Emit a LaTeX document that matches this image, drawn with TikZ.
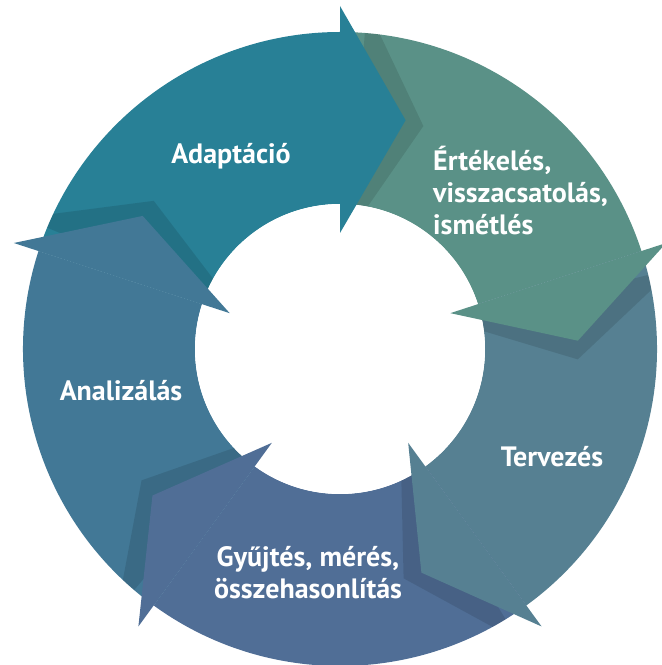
\documentclass[tikz,border=0pt]{standalone}
\usepackage{fontspec}
\setmainfont{PT Sans}
\definecolor{cA}{HTML}{288096}
\definecolor{cE}{HTML}{5A9187}
\definecolor{cT}{HTML}{568092}
\definecolor{cG}{HTML}{506E96}
\definecolor{cN}{HTML}{427896}
\begin{document}
\begin{tikzpicture}[x=1pt,y=1pt,
  lbl/.style={text=white, font=\bfseries\fontsize{28}{32}\selectfont, inner sep=0pt},
  shadowfill/.style={fill=black, fill opacity=0.11}]
\useasboundingbox (0,0) rectangle (662,665);
\def\Ro{317}\def\Ri{145}\def\Bo{343}\def\Bi{116}\def\Tr{238}
\begin{scope}[shift={(340,316)}]
  % ring bodies
  \foreach \s/\c in {162/cA, 90/cE, 18/cT, -54/cG, -126/cN} {
    \pgfmathsetmacro\e{\s-72}
    \fill[\c] (\s:\Ro) arc[start angle=\s, end angle=\e, radius=\Ro]
      -- (\e:\Ri) arc[start angle=\e, end angle=\s, radius=\Ri] -- cycle;
  }
  % shadows of the arrow heads
  \begin{scope}
    \clip (0,0) circle[radius=\Ro];
    \foreach \e in {90, 18, -54, -126, -198} {
      \pgfmathsetmacro\a{\e-4.5}
      \pgfmathsetmacro\t{\e-20.5}
      \fill[shadowfill] (\a:\Bo) -- (\t:\Tr) -- (\a:\Bi) -- cycle;
    }
  \end{scope}
  \fill[white] (0,0) circle[radius=\Ri];
  % arrow heads
  \foreach \e/\c in {90/cA, 18/cE, -54/cT, -126/cG, -198/cN} {
    \pgfmathsetmacro\t{\e-16}
    \fill[\c] (\e:\Bo) -- (\t:\Tr) -- (\e:\Bi) -- cycle;
  }
\end{scope}
\node[lbl] (adapt) at (231,509) {Adaptáció};
\node[lbl, anchor=west, align=left] (ertek) at (433,474) {Értékelés,\\visszacsatolás,\\ismétlés};
\node[lbl] (terv) at (552,208) {Tervezés};
\node[lbl, align=center] (gyujt) at (308,92) {Gyűjtés, mérés,\\összehasonlítás};
\node[lbl] (anal) at (121,274) {Analizálás};
\end{tikzpicture}
\end{document}
